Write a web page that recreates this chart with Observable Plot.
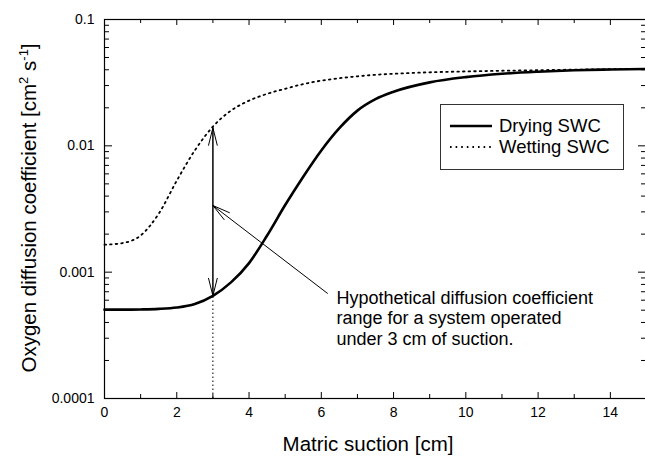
<!DOCTYPE html>
<html><head><meta charset="utf-8">
<script src="https://cdn.jsdelivr.net/npm/d3@7"></script>
<script src="https://cdn.jsdelivr.net/npm/@observablehq/plot@0.6"></script>
<style>
html,body{margin:0;padding:0;overflow:hidden;background:#fff;}
#chart{position:relative;width:645px;height:457px;overflow:hidden;}
#chart svg{display:block;max-width:none !important;}
</style></head><body><div id="chart"></div>
<script>
// ---- data ----
const suction = [0,0.5,1,1.5,2,2.5,3,3.5,4,4.5,5,5.5,6,6.5,7,7.5,8,9,10,11,12,13,14,15];
const drying  = [0.000505,0.000505,0.000507,0.000512,0.000525,0.00056,0.00065,0.00083,0.00118,0.00195,0.0034,0.0057,0.0092,0.0138,0.019,0.0234,0.0268,0.0318,0.035,0.0372,0.0386,0.0396,0.0402,0.0406];
const wetting = [0.00165,0.0017,0.00195,0.0029,0.0053,0.0092,0.0142,0.019,0.0228,0.0258,0.0283,0.0308,0.0328,0.0343,0.0355,0.0365,0.0372,0.0382,0.0388,0.0393,0.0397,0.0401,0.0404,0.0406];
const seriesNames = ["Drying SWC","Wetting SWC"];
const xTicks = [0,2,4,6,8,10,12,14];
const xMinorTicks = [1,3,5,7,9,11,13,15];
const yTicks = [0.0001,0.001,0.01,0.1];
const yTickLabels = ["0.0001","0.001","0.01","0.1"];
const yMinorTicks = [0.0002,0.0003,0.0004,0.0005,0.0006,0.0007,0.0008,0.0009,
                     0.002,0.003,0.004,0.005,0.006,0.007,0.008,0.009,
                     0.02,0.03,0.04,0.05,0.06,0.07,0.08,0.09];
const operatingSuction = [3];
const rangeLow = [0.00065];
const rangeHigh = [0.0139];
const annotationLines = ["Hypothetical diffusion coefficient","range for a system operated","under 3 cm of suction."];
const annotationPos = [6.42, 0.00073];
const pointerFrom = [6.17, 0.00068];
const pointerTo = [3, 0.00337];
const xLabel = "Matric suction [cm]";
const yLabelParts = ["Oxygen diffusion coefficient [cm", "2", " s", "-1", "]"];

// ---- layout ----
const W = 647, H = 457, mL = 104, mR = 1, mT = 19, mB = 59;
const iw = W - mL - mR, ih = H - mT - mB;
const font = "'Liberation Sans', Arial, sans-serif";

const rows = suction.map((s, i) => ({s, drying: drying[i], wetting: wetting[i]}));
const rangeArrow = operatingSuction.map((s, i) => ({x: s, lo: rangeLow[i], hi: rangeHigh[i]}));
const pointer = [{x1: pointerFrom[0], y1: pointerFrom[1], x2: pointerTo[0], y2: pointerTo[1]}];
const dotted = "1.6,4";

const plot = Plot.plot({
  width: W, height: H,
  marginLeft: mL, marginRight: mR, marginTop: mT, marginBottom: mB,
  style: {fontFamily: font, fontSize: "14px", color: "#000", background: "#fff", overflow: "visible"},
  x: {domain: [0, 15]},
  y: {type: "log", domain: [0.0001, 0.1]},
  marks: [
    Plot.axisX(xTicks, {tickSize: 0, tickPadding: 9, fontSize: 14, label: null, tickFormat: d => String(d)}),
    Plot.axisY(yTicks, {tickSize: 0, tickPadding: 10, fontSize: 14, label: null, tickFormat: d => yTickLabels[yTicks.indexOf(d)]}),
    // inward ticks on all four sides
    Plot.tickX(xTicks, {x: d => d, insetTop: ih - 6, stroke: "#000"}),
    Plot.tickX(xMinorTicks, {x: d => d, insetTop: ih - 4, stroke: "#000"}),
    Plot.tickX(xTicks, {x: d => d, insetBottom: ih - 6, stroke: "#000"}),
    Plot.tickX(xMinorTicks, {x: d => d, insetBottom: ih - 4, stroke: "#000"}),
    Plot.tickY(yTicks, {y: d => d, insetRight: iw - 8, stroke: "#000"}),
    Plot.tickY(yMinorTicks, {y: d => d, insetRight: iw - 5, stroke: "#000"}),
    Plot.tickY(yTicks, {y: d => d, insetLeft: iw - 8, stroke: "#000"}),
    Plot.tickY(yMinorTicks, {y: d => d, insetLeft: iw - 5, stroke: "#000"}),
    Plot.frame({stroke: "#000", strokeWidth: 1.2}),
    // vertical dotted guide at the operating suction
    Plot.ruleX(rangeArrow, {x: "x", y1: () => 0.0001, y2: "lo", stroke: "#000", strokeDasharray: "1.5,2.5"}),
    // curves
    Plot.line(rows, {x: "s", y: "wetting", stroke: "#000", strokeWidth: 1.8, strokeDasharray: dotted, curve: "monotone-x"}),
    Plot.line(rows, {x: "s", y: "drying", stroke: "#000", strokeWidth: 2.6, curve: "monotone-x"}),
    // double-headed range arrow
    Plot.arrow(rangeArrow, {x: "x", y1: "lo", y2: "hi", stroke: "#000", strokeWidth: 1, headLength: 27, headAngle: 28}),
    Plot.arrow(rangeArrow, {x: "x", y1: "hi", y2: "lo", stroke: "#000", strokeWidth: 1, headLength: 27, headAngle: 28}),
    // pointer arrow
    Plot.arrow(pointer, {x1: "x1", y1: "y1", x2: "x2", y2: "y2", stroke: "#000", strokeWidth: 1, headLength: 27, headAngle: 28}),
    Plot.text([annotationLines.join("\n")], {x: () => annotationPos[0], y: () => annotationPos[1], text: d => d,
      textAnchor: "start", lineAnchor: "top", lineHeight: 1.13, fontSize: 18, fill: "#000"})
  ]
});

document.getElementById("chart").appendChild(plot);

const svg = d3.select(plot);
// axis titles
svg.append("text")
  .attr("x", 368).attr("y", 451)
  .attr("text-anchor", "middle")
  .attr("font-family", font).attr("font-size", 20.5).attr("fill", "#000")
  .text(xLabel);
const yl = svg.append("text")
  .attr("transform", "translate(36,208) rotate(-90)")
  .attr("text-anchor", "middle")
  .attr("font-family", font).attr("font-size", 20.5).attr("fill", "#000");
yl.append("tspan").text(yLabelParts[0]);
yl.append("tspan").attr("dy", -8).attr("font-size", 13).text(yLabelParts[1]);
yl.append("tspan").attr("dy", 8).text(yLabelParts[2]);
yl.append("tspan").attr("dy", -8).attr("font-size", 13).text(yLabelParts[3]);
yl.append("tspan").attr("dy", 8).text(yLabelParts[4]);

// legend
const lg = svg.append("g");
lg.append("rect").attr("x", 440.5).attr("y", 104.5).attr("width", 183).attr("height", 65)
  .attr("fill", "#fff").attr("stroke", "#333").attr("stroke-width", 1);
const legendStyles = [{w: 2.6, dash: null}, {w: 1.8, dash: dotted}];
seriesNames.forEach((name, i) => {
  const cy = 126 + i * 21;
  lg.append("line").attr("x1", 450).attr("x2", 492).attr("y1", cy).attr("y2", cy)
    .attr("stroke", "#000").attr("stroke-width", legendStyles[i].w)
    .attr("stroke-dasharray", legendStyles[i].dash);
  lg.append("text").attr("x", 499).attr("y", cy).attr("dy", "0.35em")
    .attr("text-anchor", "start")
    .attr("font-family", font).attr("font-size", 18.5).attr("fill", "#000").text(name);
});
</script>
</body></html>
